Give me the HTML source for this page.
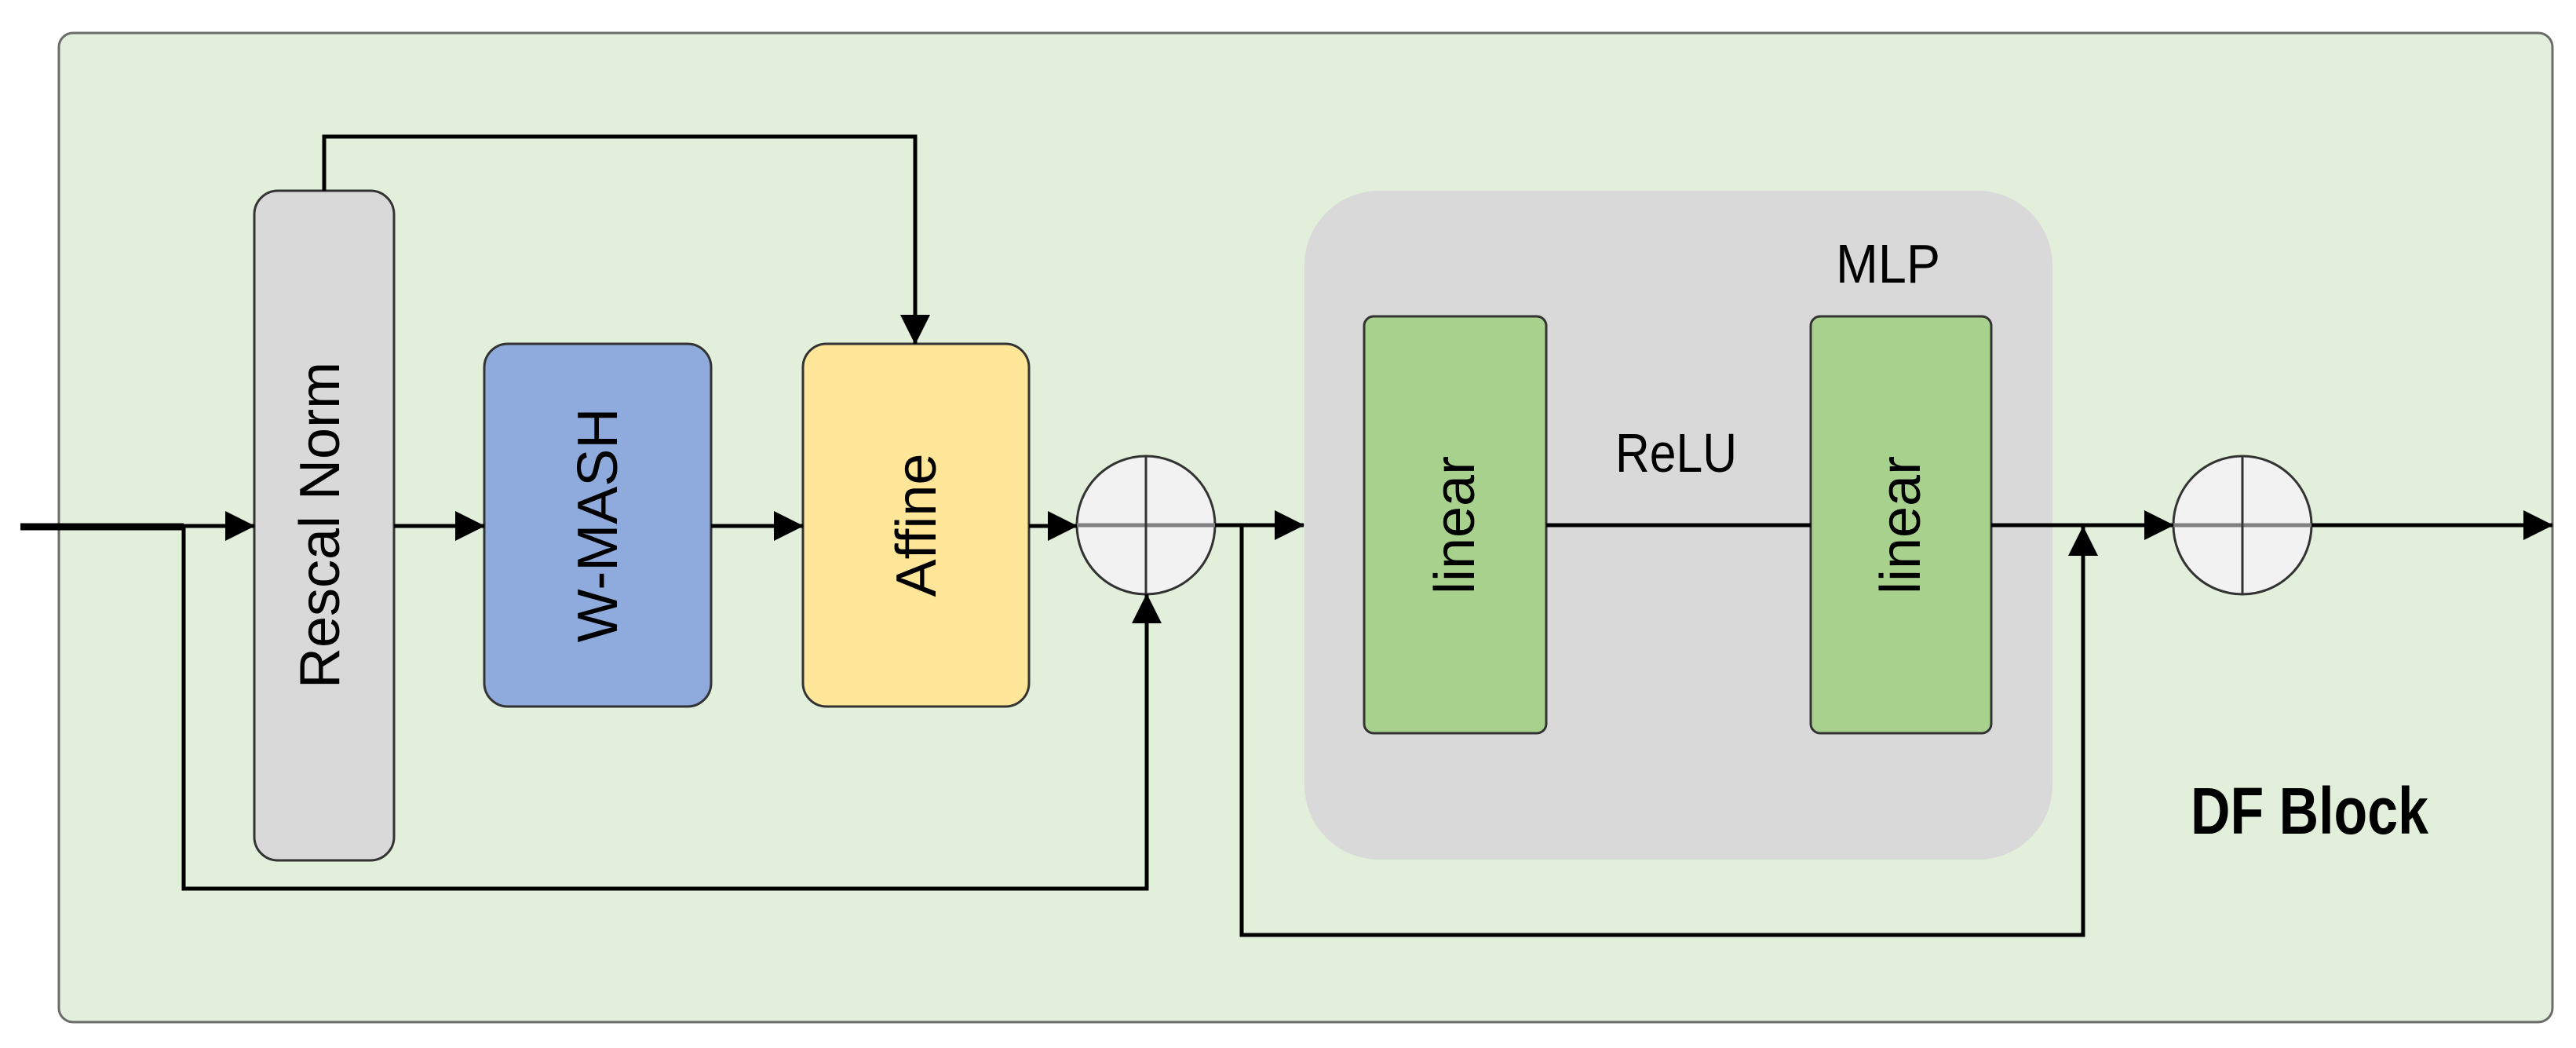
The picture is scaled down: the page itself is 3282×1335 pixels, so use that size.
<!DOCTYPE html>
<html><head><meta charset="utf-8">
<style>
html,body{margin:0;padding:0;background:#fff;}
svg{display:block;}
.t{font-family:"Liberation Sans",Arial,sans-serif;font-size:72px;fill:#000;}
.c{font-family:"Liberation Sans Narrow","Liberation Sans",sans-serif;fill:#000;}
</style></head>
<body>
<svg width="3282" height="1335" viewBox="0 0 3282 1335" xmlns="http://www.w3.org/2000/svg">
<defs>
<marker id="a" markerWidth="38" markerHeight="40" refX="37" refY="20" orient="auto" markerUnits="userSpaceOnUse">
<path d="M0,1 L38,20 L0,39 Z" fill="#000"/>
</marker>
</defs>
<rect x="75" y="42" width="3177" height="1260" rx="18" fill="#e2efda" stroke="#6b6b6b" stroke-width="3"/>
<rect x="1662" y="243" width="953" height="852" rx="95" fill="#d9d9d9"/>
<rect x="324" y="243" width="178" height="853" rx="30" fill="#d9d9d9" stroke="#333" stroke-width="3"/>
<rect x="617" y="438" width="289" height="462" rx="30" fill="#8faadc" stroke="#333" stroke-width="3"/>
<rect x="1023" y="438" width="288" height="462" rx="30" fill="#ffe699" stroke="#333" stroke-width="3"/>
<rect x="1738" y="403" width="232" height="531" rx="12" fill="#a9d18e" stroke="#333" stroke-width="3"/>
<rect x="2307" y="403" width="230" height="531" rx="12" fill="#a9d18e" stroke="#333" stroke-width="3"/>
<ellipse cx="1460" cy="669" rx="88" ry="88" fill="#f2f2f2" stroke="#333" stroke-width="3"/>
<line x1="1372" y1="669" x2="1548" y2="669" stroke="#808080" stroke-width="5"/>
<line x1="1460" y1="581" x2="1460" y2="757" stroke="#333" stroke-width="3"/>
<ellipse cx="2857" cy="669" rx="88" ry="88" fill="#f2f2f2" stroke="#333" stroke-width="3"/>
<line x1="2769" y1="669" x2="2945" y2="669" stroke="#808080" stroke-width="5"/>
<line x1="2857" y1="581" x2="2857" y2="757" stroke="#333" stroke-width="3"/>
<g stroke="#000" fill="none" stroke-width="5">
<line x1="26" y1="671" x2="234" y2="671" stroke-width="9"/>
<line x1="230" y1="670" x2="324" y2="670" marker-end="url(#a)"/>
<polyline points="234,671 234,1132 1461,1132 1461,757" marker-end="url(#a)"/>
<polyline points="413,243 413,174 1166,174 1166,438" marker-end="url(#a)"/>
<line x1="502" y1="670" x2="617" y2="670" marker-end="url(#a)"/>
<line x1="906" y1="670" x2="1023" y2="670" marker-end="url(#a)"/>
<line x1="1311" y1="670" x2="1372" y2="670" marker-end="url(#a)"/>
<line x1="1548" y1="669" x2="1661" y2="669" marker-end="url(#a)"/>
<polyline points="1582,669 1582,1191 2654,1191 2654,671" marker-end="url(#a)"/>
<line x1="1970" y1="669" x2="2307" y2="669"/>
<line x1="2537" y1="669" x2="2769" y2="669" marker-end="url(#a)"/>
<line x1="2945" y1="669" x2="3252" y2="669" marker-end="url(#a)"/>
</g>
<text class="t" transform="translate(408,669) rotate(-90)" text-anchor="middle" dominant-baseline="central">Rescal Norm</text>
<text class="t" transform="translate(762,669) rotate(-90)" text-anchor="middle" dominant-baseline="central">W-MASH</text>
<text class="t" transform="translate(1168,669) rotate(-90)" text-anchor="middle" dominant-baseline="central">Affine</text>
<text class="t" transform="translate(1854,669) rotate(-90)" text-anchor="middle" dominant-baseline="central">linear</text>
<text class="t" transform="translate(2422,669) rotate(-90)" text-anchor="middle" dominant-baseline="central">linear</text>
<text class="c" x="2058" y="601" font-size="70" textLength="155" lengthAdjust="spacingAndGlyphs">ReLU</text>
<text class="c" x="2339" y="360" font-size="70" textLength="133" lengthAdjust="spacingAndGlyphs">MLP</text>
<text class="c" x="2791" y="1062" font-size="84" font-weight="bold" textLength="303" lengthAdjust="spacingAndGlyphs">DF Block</text>
</svg>
</body></html>
